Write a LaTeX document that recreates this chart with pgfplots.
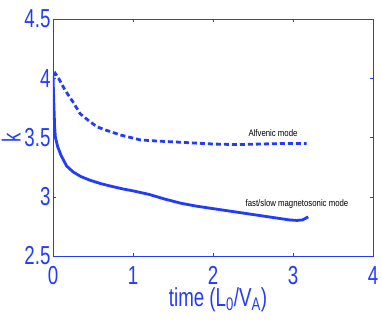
\documentclass[border=0pt]{standalone}
\usepackage{fontspec}
\setmainfont{Liberation Sans}
\newfontfamily\narrowfont[FakeStretch=0.72]{Liberation Sans}
\newfontfamily\smallnarrow[FakeStretch=0.82]{Liberation Sans}
\usepackage{pgfplots}
\pgfplotsset{compat=1.18}
\definecolor{mblue}{RGB}{35,60,250}
\begin{document}
\begin{tikzpicture}
\begin{axis}[
  scale only axis,
  width=320pt, height=237pt,
  xmin=0, xmax=4, ymin=2.5, ymax=4.5,
  xtick={0,1,2,3,4}, ytick={2.5,3,3.5,4,4.5},
  yticklabels={2.5,3,3.5,4,4.5},
  xticklabels={0,1,2,3,4},
  axis line style={mblue, line width=0.6pt},
  tick style={mblue, line width=0.4pt},
  tick align=inside,
  major tick length=3pt,
  ticklabel style={font=\fontsize{26}{26}\narrowfont, text=mblue},
  xticklabel style={yshift=-7pt},
  yticklabel style={xshift=1pt},
  /pgf/number format/assume math mode=true,
  xlabel={time (L\textsubscript{0}/V\textsubscript{A})},
  ylabel={k},
  label style={font=\fontsize{26}{26}\narrowfont, text=mblue},
  xlabel style={yshift=4pt, xshift=5pt},
  ylabel style={yshift=-3pt},
]
\addplot[mblue, line width=2.8pt] coordinates {
(0,4.02) (0.01,3.8) (0.02,3.6) (0.03,3.5) (0.06,3.42) (0.1,3.35) (0.17,3.26)
(0.25,3.21) (0.35,3.17) (0.46,3.14) (0.6,3.11) (0.75,3.085) (0.88,3.065)
(1.0,3.05) (1.2,3.02) (1.4,2.98) (1.6,2.945) (1.8,2.92) (2.0,2.90) (2.2,2.88)
(2.4,2.86) (2.6,2.84) (2.8,2.82) (2.95,2.805) (3.05,2.80) (3.12,2.805) (3.19,2.83)
};
\addplot[mblue, line width=2.8pt, dash pattern=on 5pt off 3pt] coordinates {
(0.02,4.02) (0.03,4.04) (0.07,4.0) (0.15,3.9) (0.25,3.8) (0.34,3.70) (0.45,3.64)
(0.55,3.59) (0.67,3.56) (0.85,3.52) (1.09,3.48) (1.3,3.47) (1.59,3.46)
(2.0,3.445) (2.3,3.44) (2.6,3.445) (2.9,3.45) (3.17,3.45)
};
\node[font=\fontsize{9.5}{10}\smallnarrow, text=black] at (axis cs:2.75,3.54) {Alfvenic mode};
\node[font=\fontsize{9.5}{10}\smallnarrow, text=black] at (axis cs:3.05,2.94) {fast/slow magnetosonic mode};
\end{axis}
\pgfresetboundingbox
\path[use as bounding box] (current axis.south west) ++(-53pt,-71pt) rectangle ++(382pt,327pt);
\end{tikzpicture}
\end{document}
